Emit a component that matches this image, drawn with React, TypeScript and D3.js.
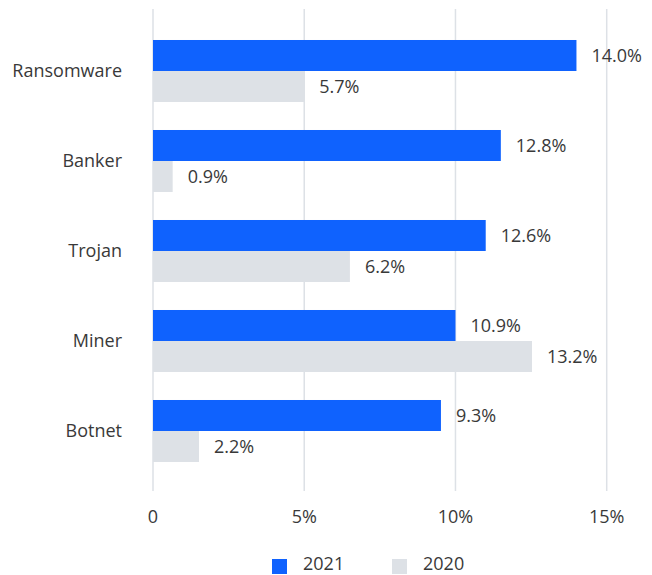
import React from "react";
import * as d3 from "d3";

const categories = ["Ransomware", "Banker", "Trojan", "Miner", "Botnet"];
const seriesNames = ["2021", "2020"];
// bar lengths as drawn (percent)
const values2021 = [14.0, 11.5, 11.0, 10.0, 9.52];
const values2020 = [5.0, 0.65, 6.51, 12.53, 1.52];
// value labels as printed
const labels2021 = ["14.0%", "12.8%", "12.6%", "10.9%", "9.3%"];
const labels2020 = ["5.7%", "0.9%", "6.2%", "13.2%", "2.2%"];
const xTicks = [0, 5, 10, 15];
const colors = ["#0f62fe", "#dde1e6"];

const W = 652;
const H = 575;
const FONT = "'Open Sans', 'Noto Sans', sans-serif";
const TEXT = "#393939";
const FS = 18;

export default function App() {
  const x = d3.scaleLinear().domain([0, 15]).range([153, 606.7]);
  const y = d3
    .scaleBand<string>()
    .domain(categories)
    .range([26, 476])
    .paddingInner(0.311)
    .paddingOuter(0.1555);
  const ySub = d3.scaleBand<string>().domain(seriesNames).range([0, y.bandwidth()]);
  const series = [
    { name: seriesNames[0], values: values2021, labels: labels2021, color: colors[0] },
    { name: seriesNames[1], values: values2020, labels: labels2020, color: colors[1] },
  ];
  const fmt = (t: number) => (t === 0 ? "0" : `${t}%`);

  return (
    <div style={{ position: "absolute", left: 0, top: 0 }}>
      <svg width={W} height={H} style={{ display: "block" }} fontFamily={FONT}>
        {xTicks.map((t) => (
          <g key={t}>
            <line x1={x(t)} x2={x(t)} y1={9} y2={491} stroke="#dde1e6" strokeWidth={1.5} />
            <text x={x(t)} y={523} textAnchor="middle" fontSize={FS} fill={TEXT}>
              {fmt(t)}
            </text>
          </g>
        ))}
        {categories.map((c, i) => (
          <g key={c}>
            <text
              x={122}
              y={(y(c) ?? 0) + y.bandwidth() / 2}
              dy="0.35em"
              textAnchor="end"
              fontSize={FS}
              fill={TEXT}
            >
              {c}
            </text>
            {series.map((s) => {
              const yy = (y(c) ?? 0) + (ySub(s.name) ?? 0);
              return (
                <g key={s.name}>
                  <rect
                    x={x(0)}
                    y={yy}
                    width={x(s.values[i]) - x(0)}
                    height={ySub.bandwidth()}
                    fill={s.color}
                  />
                  <text
                    x={x(s.values[i]) + 15}
                    y={yy + ySub.bandwidth() / 2}
                    dy="0.35em"
                    fontSize={FS}
                    fill={TEXT}
                  >
                    {s.labels[i]}
                  </text>
                </g>
              );
            })}
          </g>
        ))}
        {series.map((s, k) => {
          const lx = [272, 392][k];
          return (
            <g key={s.name}>
              <rect x={lx} y={559} width={15} height={15} fill={s.color} />
              <text x={lx + 31} y={570} fontSize={FS} fill={TEXT}>
                {s.name}
              </text>
            </g>
          );
        })}
      </svg>
    </div>
  );
}
